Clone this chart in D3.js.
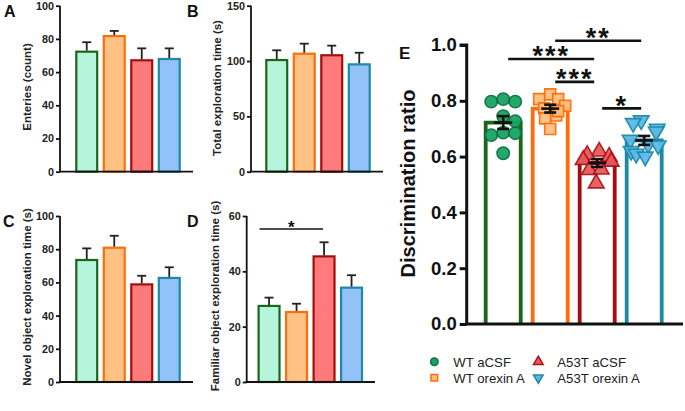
<!DOCTYPE html>
<html><head><meta charset="utf-8">
<script src="https://cdn.jsdelivr.net/npm/d3@7"></script>
<style>body{margin:0;background:#fff}svg{display:block;font-family:"Liberation Sans",Arial,sans-serif}</style>
</head><body><svg id="c" width="685" height="411"></svg>
<script>
// ---------- data ----------
const groups = ["WT aCSF", "WT orexin A", "A53T aCSF", "A53T orexin A"];
const entriesMean = [72.3, 81.7, 67.1, 67.9];
const entriesSem = [5.7, 3.1, 7.2, 6.4];
const totalMean = [100.9, 106.6, 105.2, 97.0];
const totalSem = [8.8, 9.1, 8.7, 10.5];
const novelMean = [73.5, 80.9, 58.8, 62.7];
const novelSem = [7.0, 7.2, 5.2, 6.4];
const familiarMean = [27.5, 25.3, 45.4, 34.1];
const familiarSem = [3.0, 3.0, 5.1, 4.5];
const ticksA = [0, 20, 40, 60, 80, 100];
const ticksB = [0, 50, 100, 150];
const ticksC = [0, 20, 40, 60, 80, 100];
const ticksD = [0, 20, 40, 60];
const ratioMean = [0.722, 0.772, 0.577, 0.658];
const ratioSem = [0.023, 0.014, 0.014, 0.016];
const ratioWT_aCSF = [0.797, 0.806, 0.797, 0.745, 0.727, 0.677, 0.686, 0.684, 0.612];
const ratioWT_orexin = [0.806, 0.823, 0.806, 0.782, 0.773, 0.737, 0.747, 0.763, 0.699];
const ratioA53T_aCSF = [0.618, 0.606, 0.600, 0.588, 0.582, 0.552, 0.554, 0.504];
const ratioA53T_orexin = [0.730, 0.720, 0.700, 0.690, 0.660, 0.645, 0.640, 0.620, 0.610, 0.600];
const ticksE = [0, 0.2, 0.4, 0.6, 0.8, 1.0];
const sigE = [
  {a: 0, b: 2, label: "***", level: 0.95},
  {a: 1, b: 3, label: "**", level: 1.015},
  {a: 1, b: 2, label: "***", level: 0.868},
  {a: 2, b: 3, label: "*", level: 0.773}
];

// ---------- styles ----------
const fills = ["#b6f5dc", "#ffc285", "#ff7b7b", "#92c2f7"];
const strokes = ["#1a661a", "#ff6d0a", "#a30d0d", "#1c8aa5"];
const ptFill = ["#17a463", "#ffbf80", "#e85a5a", "#5db8e8"];
const ptStroke = ["#0c7040", "#ff6d0a", "#b0101a", "#1a8aa8"];
const jitter = [
  [-12, 0, 12, 0, 12, -12, 0, 12, 0],
  [-11, 0, 8, 15, -6, -5, 6, 8, 0],
  [2, -10, 12, -14, 14, -8, 4, -1],
  [-3, -11, 13, 12, -14, 4, 14, -13, -8, 1]
];

const svg = d3.select("#c");

function panel(o) {
  const g = svg.append("g");
  const x = d3.scaleBand().domain(groups).range([o.bx0, o.bx1]).paddingInner(0.24).paddingOuter(0.12);
  const y = d3.scaleLinear().domain([0, o.max]).range([o.y0, o.y1]);
  g.selectAll("rect.bar").data(groups).join("rect")
    .attr("x", d => x(d)).attr("width", x.bandwidth())
    .attr("y", (d, i) => y(o.mean[i])).attr("height", (d, i) => y(0) - y(o.mean[i]))
    .attr("fill", (d, i) => fills[i]).attr("stroke", (d, i) => strokes[i]).attr("stroke-width", 2.2);
  groups.forEach((d, i) => {
    const cx = x(d) + x.bandwidth() / 2;
    g.append("line").attr("x1", cx).attr("x2", cx).attr("y1", y(o.mean[i]) - 1).attr("y2", y(o.mean[i] + o.sem[i]))
      .attr("stroke", "#222").attr("stroke-width", 1.8);
    g.append("line").attr("x1", cx - 4.5).attr("x2", cx + 4.5).attr("y1", y(o.mean[i] + o.sem[i])).attr("y2", y(o.mean[i] + o.sem[i]))
      .attr("stroke", "#222").attr("stroke-width", 1.8);
  });
  const ya = g.append("g").attr("transform", `translate(${o.ax},0)`)
    .call(d3.axisLeft(y).tickValues(o.ticks).tickSize(4).tickPadding(2).tickFormat(d3.format("d")));
  ya.select(".domain").attr("d", `M0,${o.y0}V${y(o.max)}`);
  ya.selectAll("line,path").attr("stroke", "#111").attr("stroke-width", 1.8);
  ya.selectAll("text").attr("font-size", 10.8).attr("font-weight", "bold").attr("fill", "#222")
    .attr("font-family", '"Liberation Sans",Arial,sans-serif');
  g.append("line").attr("x1", o.ax - 1).attr("x2", o.xend).attr("y1", o.y0).attr("y2", o.y0)
    .attr("stroke", "#111").attr("stroke-width", 1.8);
  g.append("text").attr("transform", `translate(${o.lx},${o.ly}) rotate(-90)`)
    .attr("text-anchor", "middle").attr("font-size", 11.5).attr("font-weight", "bold").attr("fill", "#222")
    .text(o.label);
  g.append("text").attr("x", o.px).attr("y", o.py).attr("font-size", 16).attr("font-weight", "bold")
    .attr("fill", "#111").text(o.letter);
  return {g, x, y};
}

panel({bx0: 73, bx1: 183, y0: 171.7, y1: 5.7, max: 100, ax: 60, xend: 193, mean: entriesMean, sem: entriesSem,
  ticks: ticksA, label: "Enteries (count)", lx: 31, ly: 87, letter: "A", px: 4, py: 17});
panel({bx0: 263, bx1: 373, y0: 171.7, y1: 5.7, max: 150, ax: 251, xend: 383, mean: totalMean, sem: totalSem,
  ticks: ticksB, label: "Total exploration time (s)", lx: 221, ly: 88, letter: "B", px: 187, py: 17});
panel({bx0: 73, bx1: 183, y0: 382, y1: 216, max: 100, ax: 60, xend: 193, mean: novelMean, sem: novelSem,
  ticks: ticksC, label: "Novel object exploration time (s)", lx: 31, ly: 297, letter: "C", px: 3, py: 227});
const pD = panel({bx0: 255.3, bx1: 365.3, y0: 382, y1: 216, max: 60, ax: 246.7, xend: 375, mean: familiarMean, sem: familiarSem,
  ticks: ticksD, label: "Familiar object exploration time (s)", lx: 219, ly: 296, letter: "D", px: 187, py: 227});
{
  const x = pD.x, y = pD.y;
  const x1 = x(groups[0]) + x.bandwidth() / 2 - 9.5, x2 = x(groups[2]) + x.bandwidth() / 2 - 1;
  pD.g.append("line").attr("x1", x1).attr("x2", x2).attr("y1", y(55.3)).attr("y2", y(55.3)).attr("stroke", "#111").attr("stroke-width", 1.5);
  pD.g.append("text").attr("x", (x1 + x2) / 2).attr("y", y(55.3) + 4).attr("text-anchor", "middle")
    .attr("font-size", 17).attr("font-weight", "bold").attr("fill", "#111").text("*");
}

// ---------- panel E ----------
{
  const g = svg.append("g");
  const x = d3.scaleBand().domain(groups).range([471.6, 675.8]).paddingInner(0.255).paddingOuter(0.3);
  const y = d3.scaleLinear().domain([0, 1]).range([324, 45]);
  const pts = [ratioWT_aCSF, ratioWT_orexin, ratioA53T_aCSF, ratioA53T_orexin];
  groups.forEach((d, i) => {
    const x0 = x(d), x1 = x(d) + x.bandwidth(), yt = y(ratioMean[i]);
    g.append("path").attr("d", `M${x0},${y(0)}V${yt}H${x1}V${y(0)}`)
      .attr("fill", "none").attr("stroke", strokes[i]).attr("stroke-width", 3.8);
  });
  const shapes = [d3.symbolCircle, d3.symbolSquare, d3.symbolTriangle, d3.symbolTriangle];
  const sizes = [120, 120, 105, 105];
  pts.forEach((arr, i) => {
    const cx = x(groups[i]) + x.bandwidth() / 2;
    g.selectAll(null).data(arr).join("path")
      .attr("d", d3.symbol().type(shapes[i]).size(sizes[i]))
      .attr("transform", (v, j) => `translate(${cx + jitter[i][j]},${y(v)})${i === 3 ? " rotate(180)" : ""}`)
      .attr("fill", ptFill[i]).attr("stroke", ptStroke[i]).attr("stroke-width", 1.6).attr("opacity", 0.95);
  });
  groups.forEach((d, i) => {
    const cx = x(d) + x.bandwidth() / 2;
    const m = ratioMean[i], s = ratioSem[i];
    const st = (sel) => sel.attr("stroke", "#111").attr("stroke-width", 2.6);
    st(g.append("line").attr("x1", cx - 9).attr("x2", cx + 9).attr("y1", y(m)).attr("y2", y(m)));
    st(g.append("line").attr("x1", cx).attr("x2", cx).attr("y1", y(m + s)).attr("y2", y(m - s)));
    st(g.append("line").attr("x1", cx - 6).attr("x2", cx + 6).attr("y1", y(m + s)).attr("y2", y(m + s)));
    st(g.append("line").attr("x1", cx - 6).attr("x2", cx + 6).attr("y1", y(m - s)).attr("y2", y(m - s)));
  });
  const ya = g.append("g").attr("transform", "translate(466.7,0)")
    .call(d3.axisLeft(y).tickValues(ticksE).tickSize(7).tickPadding(3).tickFormat(d3.format(".1f")));
  ya.select(".domain").attr("d", `M0,${y(0)}V${y(1)}H-7`);
  ya.selectAll("line,path").attr("stroke", "#111").attr("stroke-width", 3);
  ya.selectAll("text").attr("font-size", 18.5).attr("font-weight", "bold").attr("fill", "#111")
    .attr("font-family", '"Liberation Sans",Arial,sans-serif');
  g.append("line").attr("x1", 465.2).attr("x2", 683).attr("y1", y(0)).attr("y2", y(0)).attr("stroke", "#111").attr("stroke-width", 3);
  g.append("text").attr("transform", `translate(415,${183.5}) rotate(-90)`).attr("text-anchor", "middle")
    .attr("font-size", 20).attr("font-weight", "bold").attr("fill", "#111").text("Discrimination ratio");
  g.append("text").attr("x", 399).attr("y", 58.5).attr("font-size", 17).attr("font-weight", "bold").attr("fill", "#111").text("E");
  sigE.forEach(s => {
    let xa = x(groups[s.a]) + x.bandwidth() / 2, xb = x(groups[s.b]) + x.bandwidth() / 2;
    const yy = y(s.level);
    xa += 5; xb -= 3;
    g.append("line").attr("x1", xa).attr("x2", xb).attr("y1", yy).attr("y2", yy).attr("stroke", "#111").attr("stroke-width", 2.6);
    g.append("text").attr("x", (xa + xb) / 2).attr("y", yy + 6.5).attr("text-anchor", "middle")
      .attr("font-size", 27).attr("font-weight", "bold").attr("fill", "#111").attr("letter-spacing", 2).text(s.label);
  });
  const lg = svg.append("g");
  const legPos = [[434.3, 361.7], [434.3, 377.7], [538.3, 361.7], [538.3, 377.7]];
  groups.forEach((d, i) => {
    const [lx, ly] = legPos[i];
    lg.append("path").attr("d", d3.symbol().type(shapes[i]).size(i < 2 ? 44 : 40)())
      .attr("transform", `translate(${lx},${ly})${i === 3 ? " rotate(180)" : ""}`)
      .attr("fill", ptFill[i]).attr("stroke", ptStroke[i]).attr("stroke-width", 1.5);
    lg.append("text").attr("x", lx + 19).attr("y", ly + 4.8).attr("font-size", 13.2).attr("fill", "#222").text(d);
  });
}
</script></body></html>
